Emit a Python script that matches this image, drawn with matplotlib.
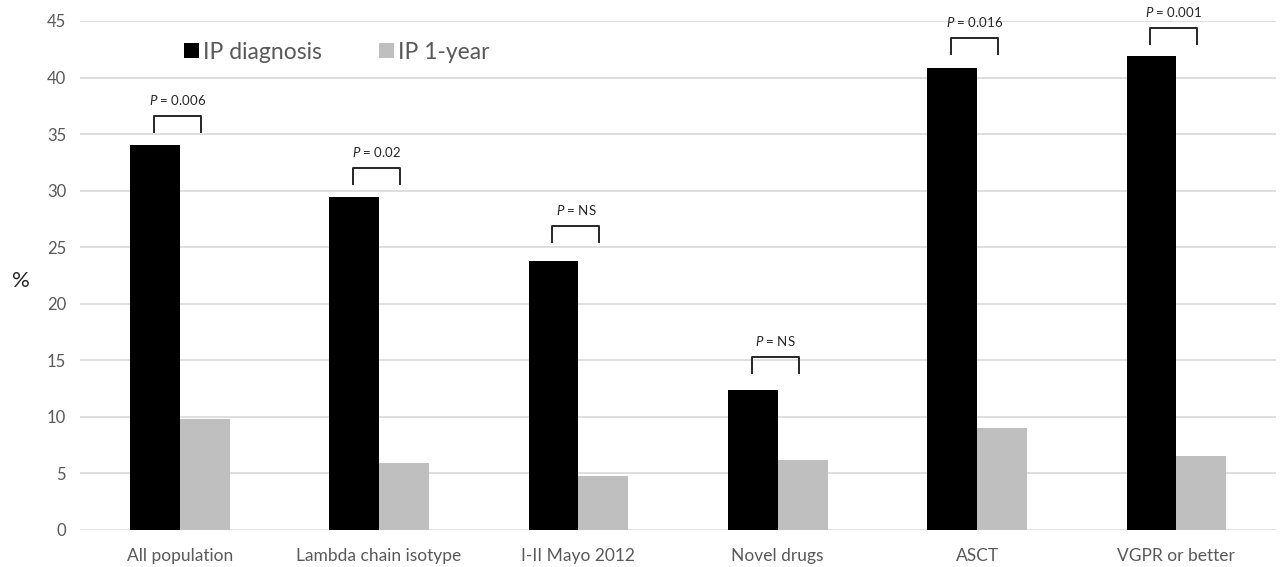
import matplotlib
matplotlib.use("Agg")
import matplotlib.pyplot as plt
import numpy as np

# Data
categories = ["All population", "Lambda chain isotype", "I-II Mayo 2012",
              "Novel drugs", "ASCT", "VGPR or better"]
ip_diagnosis = [34.0, 29.4, 23.8, 12.4, 40.8, 41.9]
ip_one_year = [9.8, 5.9, 4.8, 6.2, 9.0, 6.5]
p_labels = ["0.006", "0.02", "NS", "NS", "0.016", "0.001"]
y_ticks = [0, 5, 10, 15, 20, 25, 30, 35, 40, 45]

plt.rcParams["font.family"] = ["Lato", "DejaVu Sans"]
plt.rcParams["mathtext.fontset"] = "custom"
plt.rcParams["mathtext.it"] = "Lato:italic"
plt.rcParams["mathtext.rm"] = "Lato"

fig = plt.figure(figsize=(12.81, 5.67), dpi=100)
ax = fig.add_axes([0.0625, 0.0653, 0.9336, 0.8977])

x = np.arange(len(categories))
w = 0.25
ax.bar(x - w / 2, ip_diagnosis, width=w, color="#000000", label="IP diagnosis", zorder=3)
ax.bar(x + w / 2, ip_one_year, width=w, color="#bfbfbf", label="IP 1-year", zorder=3)

ax.set_xlim(-0.5, len(categories) - 0.5)
ax.set_ylim(0, 45)
ax.set_yticks(y_ticks)
ax.set_xticks(x)
ax.set_xticklabels(categories)

for s in ax.spines.values():
    s.set_visible(False)
ax.yaxis.grid(True, color="#d9d9d9", linewidth=1.2, zorder=0)
ax.set_axisbelow(True)
ax.tick_params(axis="both", length=0, colors="#595959")
ax.tick_params(axis="y", pad=10, labelsize=12)
ax.tick_params(axis="x", pad=13, labelsize=12.5)

fig.text(0.0165, 0.505, "%", fontsize=16, color="#262626", ha="center", va="center")

# Significance brackets above each group
bracket_gap = [2.6, 2.6, 3.1, 2.9, 2.7, 2.5]
for i, (hi, lab, gap) in enumerate(zip(ip_diagnosis, p_labels, bracket_gap)):
    top = hi + gap
    leg = 1.4
    x0, x1 = i - 0.13, i + 0.105
    ax.plot([x0, x0, x1, x1], [top - leg, top, top, top - leg],
            color="#262626", linewidth=1.4, clip_on=False, zorder=4)
    ax.text((x0 + x1) / 2, top + 1.4, r"$P$ = " + lab, ha="center", va="center",
            fontsize=9.5, color="#262626", clip_on=False)

leg = ax.legend(loc="upper left", bbox_to_anchor=(0.07, 1.0), ncol=2, frameon=False,
                fontsize=16.5, handlelength=0.62, handleheight=0.62, handletextpad=0.2,
                columnspacing=2.5, labelcolor="#595959")

fig.savefig("out.png", dpi=100)
